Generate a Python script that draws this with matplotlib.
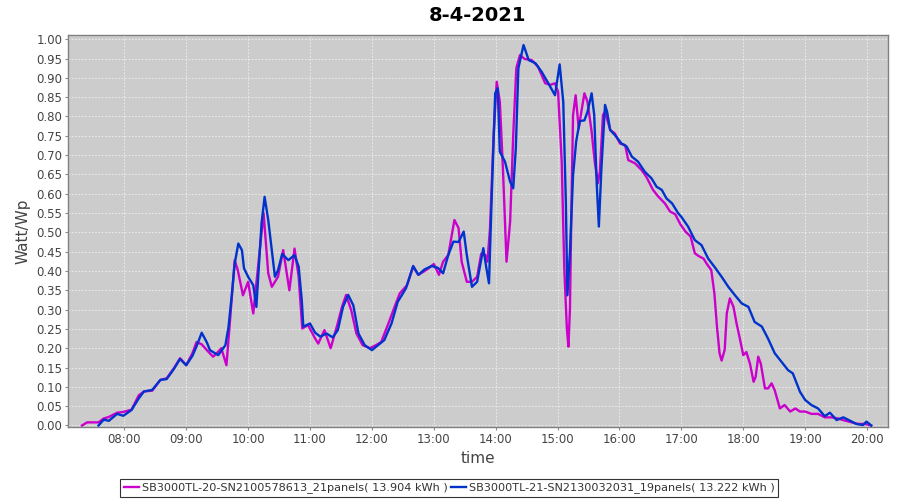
import matplotlib
matplotlib.use("Agg")
import matplotlib.pyplot as plt

title = "8-4-2021"
series_names = ["SB3000TL-20-SN2100578613_21panels( 13.904 kWh )",
                "SB3000TL-21-SN2130032031_19panels( 13.222 kWh )"]
series_colors = ["#cc00cc", "#0033cc"]

mag_times = ["07:19", "07:24", "07:35", "07:40", "07:45", "07:53", "07:59", "08:07", "08:14", "08:19",
             "08:27", "08:35", "08:41", "08:48", "08:54", "09:00", "09:06", "09:10", "09:15", "09:20",
             "09:26", "09:30", "09:34", "09:39", "09:42:30", "09:47", "09:50", "09:55", "10:00", "10:05",
             "10:10", "10:15", "10:19:30", "10:23", "10:29", "10:34", "10:40", "10:45", "10:49", "10:52:30",
             "10:58", "11:05", "11:08", "11:14", "11:20", "11:26", "11:31", "11:35", "11:40", "11:45",
             "11:51", "11:58", "12:04", "12:09", "12:16", "12:22", "12:27", "12:34", "12:40", "12:45",
             "12:50", "12:55", "13:00", "13:05", "13:09", "13:14", "13:20", "13:24", "13:27", "13:32",
             "13:37", "13:42", "13:46", "13:50", "13:52", "13:54:30", "13:58", "14:01", "14:04", "14:07",
             "14:10:30", "14:14", "14:17", "14:20", "14:23:30", "14:28", "14:35", "14:41", "14:48", "14:53",
             "14:57:30", "15:00:30", "15:04", "15:06:30", "15:09", "15:10:30", "15:12", "15:13:30", "15:15", "15:17:30",
             "15:20:30", "15:23", "15:26", "15:29", "15:33", "15:36", "15:39", "15:41", "15:44", "15:46",
             "15:51", "15:55:30", "16:00:30", "16:05:30", "16:08:30", "16:15", "16:21:30", "16:26", "16:32:30", "16:37:30",
             "16:44", "16:49", "16:54", "16:59", "17:04", "17:09", "17:13", "17:16:30", "17:21:30", "17:24:30",
             "17:29", "17:32", "17:34:30", "17:37", "17:39", "17:42", "17:44", "17:47", "17:50:30", "17:53:30",
             "17:57", "18:00", "18:03", "18:06:30", "18:10", "18:12", "18:14:30", "18:17", "18:21", "18:24",
             "18:27:30", "18:30:30", "18:35:30", "18:40", "18:45:30", "18:50:30", "18:55", "19:00", "19:06", "19:12:30",
             "19:19", "19:25:30", "19:32", "19:38", "19:45", "19:51", "19:58", "20:04"]
mag_values = [0.000, 0.008, 0.008, 0.018, 0.022, 0.033, 0.035, 0.041, 0.078, 0.088,
              0.090, 0.118, 0.122, 0.148, 0.174, 0.156, 0.187, 0.216, 0.210, 0.195,
              0.178, 0.188, 0.200, 0.156, 0.273, 0.428, 0.402, 0.337, 0.372, 0.290,
              0.419, 0.550, 0.394, 0.359, 0.385, 0.454, 0.350, 0.458, 0.385, 0.251,
              0.260, 0.225, 0.212, 0.247, 0.200, 0.256, 0.307, 0.338, 0.298, 0.238,
              0.208, 0.200, 0.208, 0.216, 0.264, 0.307, 0.342, 0.363, 0.411, 0.390,
              0.398, 0.407, 0.418, 0.390, 0.424, 0.441, 0.532, 0.511, 0.424, 0.372,
              0.372, 0.385, 0.445, 0.441, 0.424, 0.511, 0.752, 0.890, 0.838, 0.666,
              0.424, 0.528, 0.752, 0.925, 0.959, 0.949, 0.946, 0.929, 0.886, 0.882,
              0.886, 0.864, 0.683, 0.407, 0.251, 0.204, 0.303, 0.580, 0.804, 0.855,
              0.769, 0.812, 0.860, 0.838, 0.761, 0.683, 0.627, 0.657, 0.804, 0.812,
              0.765, 0.756, 0.730, 0.726, 0.687, 0.679, 0.661, 0.644, 0.610, 0.593,
              0.575, 0.554, 0.547, 0.521, 0.502, 0.489, 0.446, 0.439, 0.432, 0.419,
              0.402, 0.342, 0.256, 0.187, 0.168, 0.196, 0.290, 0.329, 0.307, 0.264,
              0.221, 0.182, 0.190, 0.160, 0.113, 0.126, 0.178, 0.160, 0.096, 0.096,
              0.109, 0.091, 0.044, 0.053, 0.036, 0.044, 0.036, 0.036, 0.030, 0.030,
              0.021, 0.021, 0.018, 0.013, 0.008, 0.004, 0.004, 0.000]

blue_times = ["07:35", "07:40", "07:45", "07:53", "07:59", "08:07", "08:14", "08:19", "08:27", "08:35",
              "08:41", "08:48", "08:54", "09:00", "09:06", "09:10", "09:15", "09:20", "09:23", "09:31",
              "09:38", "09:41", "09:44", "09:47", "09:50:30", "09:54", "09:56", "10:00", "10:05", "10:08",
              "10:13", "10:16", "10:19:30", "10:23", "10:26", "10:29", "10:33", "10:39", "10:45", "10:49",
              "10:52", "10:53:30", "11:00", "11:05", "11:10", "11:16", "11:22", "11:27", "11:32", "11:37",
              "11:42", "11:47", "11:53", "12:00", "12:06", "12:12", "12:19", "12:25", "12:33", "12:40",
              "12:45", "12:51", "12:58", "13:04", "13:09", "13:14", "13:19", "13:24", "13:29", "13:32",
              "13:37", "13:42", "13:48", "13:51", "13:53:30", "13:56", "13:59:30", "14:02", "14:04", "14:09",
              "14:14", "14:17", "14:19:30", "14:22", "14:27", "14:32", "14:38:30", "14:44:30", "14:51", "14:57:30",
              "15:02", "15:05:30", "15:08", "15:09:30", "15:12", "15:15", "15:18", "15:21:30", "15:26", "15:29",
              "15:33", "15:35:30", "15:38", "15:40", "15:42:30", "15:46", "15:48", "15:51", "15:55:30", "16:02",
              "16:07", "16:12", "16:18", "16:24:30", "16:31", "16:36", "16:41", "16:45:30", "16:51", "16:57",
              "17:00", "17:06:30", "17:13", "17:19:30", "17:26", "17:32", "17:39", "17:45:30", "17:52", "17:58:30",
              "18:05", "18:11", "18:18", "18:24", "18:30:30", "18:37", "18:43:30", "18:48", "18:55", "19:00",
              "19:06", "19:12:30", "19:19", "19:24", "19:30:30", "19:37", "19:43", "19:49:30", "19:56", "19:59:30",
              "20:04"]
blue_values = [0.000, 0.015, 0.012, 0.030, 0.025, 0.040, 0.070, 0.088, 0.092, 0.118,
               0.120, 0.146, 0.172, 0.156, 0.180, 0.205, 0.240, 0.215, 0.195, 0.182,
               0.208, 0.255, 0.333, 0.419, 0.471, 0.454, 0.407, 0.385, 0.363, 0.307,
               0.523, 0.592, 0.532, 0.454, 0.385, 0.402, 0.444, 0.428, 0.441, 0.411,
               0.325, 0.256, 0.264, 0.240, 0.230, 0.238, 0.228, 0.247, 0.307, 0.338,
               0.311, 0.238, 0.208, 0.195, 0.208, 0.221, 0.264, 0.320, 0.355, 0.413,
               0.390, 0.404, 0.413, 0.408, 0.394, 0.441, 0.476, 0.475, 0.502, 0.441,
               0.359, 0.372, 0.459, 0.407, 0.368, 0.580, 0.860, 0.873, 0.709, 0.683,
               0.631, 0.614, 0.718, 0.925, 0.985, 0.946, 0.938, 0.916, 0.886, 0.855,
               0.935, 0.838, 0.579, 0.337, 0.450, 0.648, 0.735, 0.788, 0.790, 0.812,
               0.860, 0.804, 0.623, 0.515, 0.666, 0.830, 0.812, 0.765, 0.752, 0.730,
               0.722, 0.696, 0.683, 0.657, 0.640, 0.618, 0.610, 0.588, 0.575, 0.549,
               0.540, 0.515, 0.480, 0.467, 0.432, 0.411, 0.385, 0.359, 0.337, 0.316,
               0.307, 0.268, 0.256, 0.225, 0.187, 0.165, 0.143, 0.135, 0.087, 0.066,
               0.053, 0.044, 0.024, 0.033, 0.014, 0.021, 0.013, 0.004, 0.001, 0.010,
               0.000]

x_tick_labels = ["08:00", "09:00", "10:00", "11:00", "12:00", "13:00", "14:00",
                 "15:00", "16:00", "17:00", "18:00", "19:00", "20:00"]
y_ticks = [i * 0.05 for i in range(21)]


def to_hours(s):
    parts = [int(p) for p in s.split(":")]
    while len(parts) < 3:
        parts.append(0)
    return parts[0] + parts[1] / 60 + parts[2] / 3600


plt.rcParams['font.family'] = ['DejaVu Sans']
fig = plt.figure(figsize=(9, 5), dpi=100)
ax = fig.add_axes([68 / 900, 73 / 500, 820 / 900, 392 / 500])
ax.set_facecolor("#cccccc")

ax.plot([to_hours(t) for t in mag_times], mag_values, color=series_colors[0], lw=1.7,
        label=series_names[0], zorder=3)
ax.plot([to_hours(t) for t in blue_times], blue_values, color=series_colors[1], lw=1.7,
        label=series_names[1], zorder=4)

ax.set_xlim(to_hours("07:05:24"), to_hours("20:20:18"))
ax.set_ylim(-0.004, 1.011)
ax.set_xticks([to_hours(s) for s in x_tick_labels])
ax.set_xticklabels(x_tick_labels)
ax.set_yticks(y_ticks)
ax.set_yticklabels([f"{v:.2f}" for v in y_ticks])
ax.grid(True, color="#f0f0f0", linestyle=(0, (2, 2)), linewidth=0.6)
ax.set_axisbelow(True)
ax.tick_params(axis="both", labelsize=8.5, colors="#888888", labelcolor="#444444",
               length=2, width=0.8, pad=2)
for sp in ax.spines.values():
    sp.set_color("#808080")
    sp.set_linewidth(1.0)

ax.set_title(title, fontsize=14, fontweight="bold", pad=10, color="#000000")
ax.set_xlabel("time", fontsize=11, color="#444444", labelpad=4)
ax.set_ylabel("Watt/Wp", fontsize=11, color="#444444", labelpad=4)

leg = fig.legend(loc="center", bbox_to_anchor=(449 / 900, 12 / 500), ncol=2, fontsize=8.1,
                 frameon=True, fancybox=False, edgecolor="#000000", handlelength=1.4,
                 handletextpad=0.2, columnspacing=0.3, borderpad=0.35, borderaxespad=0)
leg.get_frame().set_linewidth(0.8)
for t in leg.get_texts():
    t.set_color("#333333")

fig.savefig("out.png", dpi=100)
